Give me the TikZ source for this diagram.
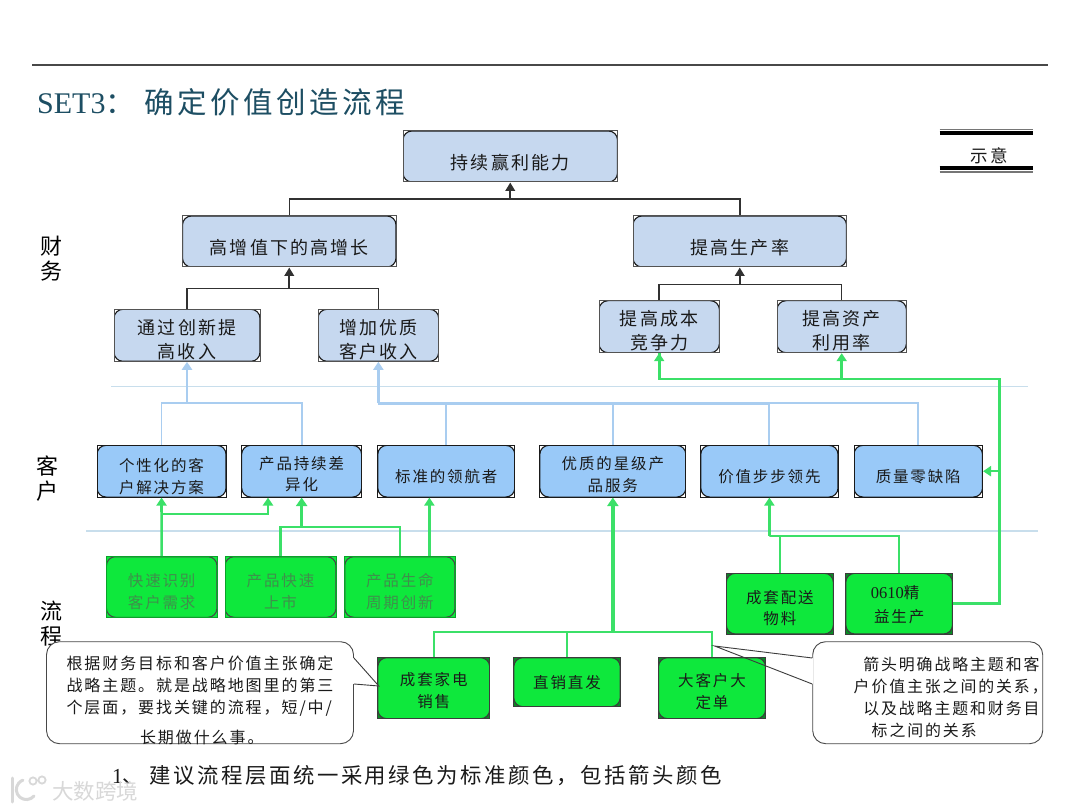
\documentclass[tikz,border=0pt]{standalone}
\usepackage{fontspec}
\setmainfont{Liberation Serif}
\newfontfamily\cjk[LetterSpace=12]{Noto Sans CJK SC}
\newfontfamily\cjkplain{Noto Sans CJK SC}
\newfontfamily\lat{Liberation Serif}
\usetikzlibrary{arrows.meta}
\definecolor{blueA}{HTML}{C6D8EF}
\definecolor{blueB}{HTML}{99C9F8}
\definecolor{boxgreen}{HTML}{0EE83C}
\definecolor{linegreen}{HTML}{3BE068}
\definecolor{lineblue}{HTML}{A9CDF0}
\definecolor{sepblue}{HTML}{C8DEEC}
\definecolor{titleteal}{HTML}{1D4E63}
\definecolor{dimgreen}{HTML}{3F8F4C}
\definecolor{ink}{HTML}{1A1A1A}
\definecolor{mark}{HTML}{D8D8D8}
% text block placed about the centre of a box: dx is twice the shift, dy the downward shift
\newcommand{\lns}[4][c]{\raisebox{\dimexpr -#3pt -.63em +.2\baselineskip\relax}[0pt][0pt]{\makebox[0pt]{\hspace*{#2pt}\begin{tabular}{@{}#1@{}}#4\end{tabular}}}}
\tikzset{
  rbox/.style n args={4}{rectangle,draw=#1,line width=1pt,fill=#2,inner sep=0pt,text=ink,
    path picture={\draw[draw=#4,fill=#3,line width=1.1pt,rounded corners=9pt]
      (path picture bounding box.north west) rectangle (path picture bounding box.south east);}},
  big/.style={font=\cjk\fontsize{18}{24}\selectfont},
  small/.style={font=\cjk\fontsize{15.5}{21.5}\selectfont},
  finbox/.style={rbox={ink!75}{white}{blueA}{ink},big},
  cusbox/.style={rbox={ink}{white}{blueB}{ink},small},
  probox/.style={rbox={boxgreen!70!black}{boxgreen}{boxgreen}{ink!80},small,text=dimgreen},
  actbox/.style={rbox={ink!85}{boxgreen!60!black}{boxgreen}{ink!85},small},
  callbox/.style={rectangle,rounded corners=13pt,draw=ink!80,fill=white,line width=.9pt,inner sep=0pt,text=ink},
  callline/.style={draw=ink!85,line width=.9pt},
  side/.style={font=\cjkplain\fontsize{22}{25}\selectfont,align=center,text=black,inner sep=0pt},
  tree/.style={draw=ink!90,line width=1.5pt},
  treetip/.style={tree,line width=2.2pt,-{Triangle[width=9.5pt,length=8.5pt]}},
  bluetree/.style={draw=lineblue,line width=1.9pt},
  bluefat/.style={draw=lineblue,line width=2.6pt},
  bluetip/.style={bluetree,line width=2.6pt,-{Triangle[width=10pt,length=8pt]}},
  gtree/.style={draw=linegreen,line width=2.2pt},
  gtip/.style={gtree,line width=2.6pt,-{Triangle[width=10pt,length=8pt]}},
  gtipfat/.style={gtree,line width=3.6pt,-{Triangle[width=11pt,length=8.5pt]}},
  sep/.style={draw=sepblue,line width=1.1pt},
}
\begin{document}
\begin{tikzpicture}[x=1pt,y=-1pt]
\useasboundingbox[fill=white] (0,0) rectangle (1080,810);
% header
\coordinate (ruleL) at (32,65); \coordinate (ruleR) at (1048,65);
\draw[draw=ink!80,line width=1.6pt] (ruleL) -- (ruleR);
\node[anchor=west,inner sep=0pt,text=titleteal,font=\lat\fontsize{30}{34}\selectfont] (title) at (37,102)
  {SET3{\cjk\fontsize{29.5}{34}\selectfont：\hspace{9pt}确定价值创造流程}};
% legend
\coordinate (a1) at (939.5,129.5); \coordinate (a2) at (1033,129.5);
\coordinate (b1) at (939.5,133); \coordinate (b2) at (1033,133);
\coordinate (c1) at (939.5,168); \coordinate (c2) at (1033,168);
\coordinate (d1) at (939.5,172); \coordinate (d2) at (1033,172);
\draw[draw=ink!60,line width=1.2pt] (a1) -- (a2) (d1) -- (d2);
\draw[draw=black,line width=3.4pt] (b1) -- (b2) (c1) -- (c2);
\node[inner sep=0pt,text=ink,font=\cjk\fontsize{17.5}{20}\selectfont] (legend) at (989,156) {示意};
% side labels
\node[side] (sideA) at (51,258.5) {财\\务};
\node[side] (sideB) at (47,478.5) {客\\户};
\node[side] (sideC) at (51,623.5) {流\\程};
% separators
\coordinate (s1) at (111,386.7); \coordinate (s2) at (1028,386.7);
\coordinate (s3) at (86,531); \coordinate (s4) at (1037.6,531);
\draw[sep] (s1) -- (s2) (s3) -- (s4);
% finance boxes
\node[finbox,minimum width=214.5pt,minimum height=51pt] (top) at (510.25,156.5) {\lns{0}{5.5}{持续赢利能力}};
\node[finbox,minimum width=213.5pt,minimum height=51pt] (grow) at (289.25,241.5) {\lns{0}{5.5}{高增值下的高增长}};
\node[finbox,minimum width=213.5pt,minimum height=51pt] (prod) at (739.75,241.5) {\lns{0}{5.5}{提高生产率}};
\node[finbox,minimum width=146pt,minimum height=52pt] (innov) at (187,335.3) {\lns{0}{4}{通过创新提\\高收入}};
\node[finbox,minimum width=120.7pt,minimum height=52pt] (qual) at (378.35,335.3) {\lns{0}{4}{增加优质\\客户收入}};
\node[finbox,minimum width=120.4pt,minimum height=52pt] (cost) at (659.2,326.7) {\lns{0}{4}{提高成本\\竞争力}};
\node[finbox,minimum width=129.4pt,minimum height=52pt] (asset) at (841.7,326.7) {\lns{0}{4}{提高资产\\利用率}};
% customer boxes
\node[cusbox,minimum width=129pt,minimum height=51.7pt] (cA) at (161.5,471.2) {\lns{0}{5}{个性化的客\\户解决方案}};
\node[cusbox,minimum width=120pt,minimum height=51.7pt] (cB) at (301.65,471.2) {\lns{0}{2.5}{产品持续差\\异化}};
\node[cusbox,minimum width=137pt,minimum height=51.7pt] (cC) at (446.3,471.2) {\lns{0}{5.5}{标准的领航者}};
\node[cusbox,minimum width=146pt,minimum height=51.7pt] (cD) at (612.85,471.2) {\lns{0}{3}{优质的星级产\\品服务}};
\node[cusbox,minimum width=137.2pt,minimum height=51.7pt] (cE) at (769.4,471.2) {\lns{0}{5}{价值步步领先}};
\node[cusbox,minimum width=128.5pt,minimum height=51.7pt] (cF) at (918.25,471.2) {\lns{0}{5}{质量零缺陷}};
% process boxes, upper row
\node[probox,minimum width=110.6pt,minimum height=60.6pt] (pA) at (161.7,587) {\lns{0}{4.3}{快速识别\\客户需求}};
\node[probox,minimum width=111pt,minimum height=60.6pt] (pB) at (280.5,587) {\lns{0}{4.3}{产品快速\\上市}};
\node[probox,minimum width=110.3pt,minimum height=60.6pt] (pC) at (399.85,587) {\lns{0}{4.3}{产品生命\\周期创新}};
\node[actbox,minimum width=107.1pt,minimum height=60.7pt] (pD) at (779.85,603.65) {\lns{0}{4.3}{成套配送\\物料}};
\node[actbox,minimum width=106.7pt,minimum height=60.7pt] (pE) at (899.15,603.65) {\lns{0}{1}{{\lat\fontsize{16.5}{21}\selectfont 0610}精\hspace*{8pt}\\[2.5pt]益生产}};
% process boxes, lower row
\node[actbox,minimum width=111.9pt,minimum height=61pt] (pF) at (433.75,688.2) {\lns{0}{2}{成套家电\\销售}};
\node[actbox,minimum width=106.4pt,minimum height=49pt] (pG) at (567,682.2) {\lns{0}{0}{直销直发}};
\node[actbox,minimum width=107pt,minimum height=61pt] (pH) at (712,688.2) {\lns{0}{3}{大客户大\\定单}};
% black tree
\coordinate (jT) at (top.south |- 0,199);
\draw[tree] (grow.north) |- (jT) -| (prod.north);
\draw[treetip] (jT) -- (top.south);
\coordinate (jG) at (grow.south |- 0,288.3);
\draw[tree] (innov.north) |- (jG) -| (qual.north);
\draw[treetip] (jG) -- (grow.south);
\coordinate (jP) at (prod.south |- 0,284.3);
\draw[tree] (cost.north) |- (jP) -| (asset.north);
\draw[treetip] (jP) -- (prod.south);
% blue tree
\coordinate (jI) at (innov.south |- 0,403.3);
\draw[bluetree] (cA.north) |- (jI) -| (cB.north);
\draw[bluetip] (jI) -- (innov.south);
\coordinate (jQ) at (qual.south |- 0,403.3);
\draw[bluetree] (jQ) -| (cF.north);
\draw[bluefat] (jQ) -- (cE.north |- jQ);
\draw[bluetip] (jQ) -- (qual.south);
\draw[bluetree] (cC.north) -- (cC.north |- jQ);
\draw[bluetree] (cD.north) -- (cD.north |- jQ);
\draw[bluetree] (cE.north) -- (cE.north |- jQ);
% green tree: customer level
\coordinate (bA) at (pA.north |- 0,514);
\coordinate (tB) at (268,0);
\draw[gtip] (pA.north) -- (cA.south);
\draw[gtip] (bA) -| (tB |- cB.south);
\coordinate (jB) at (cB.south |- 0,527.3);
\draw[gtree] (pB.north) |- (jB) -| (pC.north);
\draw[gtipfat] (jB) -- (cB.south);
\coordinate (tC) at (429.4,0);
\draw[gtip] (tC |- pC.north) -- (tC |- cC.south);
\coordinate (jD) at (cD.south |- 0,631.7);
\draw[gtree] (pF.north) |- (jD) -| (pH.north);
\draw[gtree] (pG.north) -- (pG.north |- jD);
\draw[gtipfat] (jD) -- (cD.south);
\coordinate (jE) at (cE.south |- 0,535.7);
\draw[gtree] (pD.north) |- (jE) -| (pE.north);
\draw[gtip] (jE) -- (cE.south);
% green tree: up to finance
\coordinate (rE) at (999.7,602.7);
\coordinate (rM) at (999.7,471.2);
\coordinate (rT) at (999.7,379);
\draw[gtree,line width=2.6pt] (pE.east) -- (pE.east -| rE) -- (rT) -| (cost.south);
\draw[gtip] (rT -| cost.south) -- (cost.south);
\draw[gtip] (rT -| asset.south) -- (asset.south);
\draw[gtip] (rM) -- (cF.east);
% callouts
\node[callbox,minimum width=307pt,minimum height=102pt,font=\cjk\fontsize{16}{22}\selectfont] (noteL) at (200,692.7)
  {\lns[l]{0}{8.3}{根据财务目标和客户价值主张确定\\战略主题。就是战略地图里的第三\\个层面，要找关键的流程，短/中/\\[8pt]\hspace*{73.5pt}长期做什么事。}};
\node[callbox,minimum width=230pt,minimum height=102pt,font=\cjk\fontsize{15.9}{22}\selectfont] (noteR) at (927.7,692.7)
  {\lns[l]{46}{4.8}{\hspace*{9.6pt}箭头明确战略主题和客\\户价值主张之间的关系，\\\hspace*{9.6pt}以及战略主题和财务目\\\hspace*{18pt}标之间的关系}};
\coordinate (lA) at (noteL.east |- 0,658); \coordinate (lB) at (noteL.east |- 0,684);
\coordinate (lTip) at (378.8,686);
\coordinate (rA) at (noteR.west |- 0,658); \coordinate (rB) at (noteR.west |- 0,684);
\coordinate (rTip) at (714.6,646);
\draw[draw=white,line width=2pt] (lA) -- (lB) (rA) -- (rB);
\draw[callline,fill=white] (lA) -- (lTip) -- (lB);
\draw[callline] (rA) -- (rTip) -- (rB);
% footnote
\node[anchor=west,inner sep=0pt,text=ink,font=\cjk\fontsize{21.4}{24}\selectfont] (foot) at (112,776)
  {{\lat 1}、\hspace{5pt}建议流程层面统一采用绿色为标准颜色，包括箭头颜色};
% watermark
\node[anchor=west,inner sep=0pt,text=mark,font=\cjkplain\fontsize{21.5}{24}\selectfont] (wm) at (52,791) {大数跨境};
\coordinate (k1) at (12,778); \coordinate (k2) at (12,802);
\coordinate (o1) at (33,781); \coordinate (o2) at (42,780);
\draw[draw=mark,line width=3pt,line cap=round] (k1) -- (k2);
\draw[draw=mark,line width=3pt,line cap=round] (34,796) arc[start angle=-40,end angle=-250,radius=10pt];
\draw[draw=mark,line width=1.8pt] (o1) circle[radius=3.6pt] (o2) circle[radius=3.6pt];
\end{tikzpicture}
\end{document}
